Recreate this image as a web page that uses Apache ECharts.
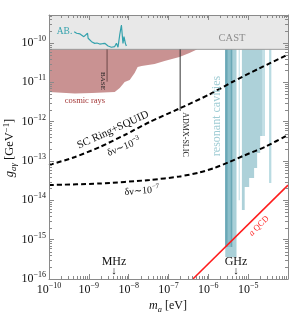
<!DOCTYPE html>
<html><head><meta charset="utf-8">
<script src="https://cdn.jsdelivr.net/npm/echarts@6/dist/echarts.min.js"></script>
<style>html,body{margin:0;padding:0;background:#fff}#c{width:292px;height:313px}</style>
</head><body><div id="c"></div>
<script>
// ---------------- data (physical units: m_a in eV, g in GeV^-1) ----------------
const xRange = [1e-10, 1e-4];
const yRange = [1e-16, 5.15e-10];
const xTickExp = [-10, -9, -8, -7, -6, -5];
const yTickExp = [-16, -15, -14, -13, -12, -11, -10];

const castG = 6.9e-11;
const castM = [1e-10, 1e-4];

const cosmicM = [1e-10, 4.47e-10, 1.19e-9, 4.47e-9, 5.96e-9, 7.94e-9, 1.06e-8, 1.41e-8, 1.68e-8, 2.11e-8, 4.47e-8, 7.94e-8, 1.88e-7, 3.35e-7, 5.31e-7];
const cosmicG = [5.69e-12, 5.21e-12, 5.37e-12, 5.69e-12, 7.18e-12, 1.02e-11, 1.15e-11, 1.73e-11, 2.45e-11, 2.61e-11, 2.93e-11, 3.49e-11, 4.42e-11, 5.57e-11, 6.92e-11];

const abM = [4.29e-10, 4.93e-10, 5.40e-10, 6.0e-10, 6.57e-10, 7.5e-10, 8.41e-10, 9.28e-10, 9.6e-10, 1.17e-9, 1.3e-9, 1.41e-9, 1.6e-9, 1.88e-9, 2.2e-9, 2.51e-9, 3.04e-9, 3.69e-9, 4.47e-9, 4.93e-9, 5.40e-9, 5.96e-9, 6.57e-9, 7.2e-9, 7.63e-9, 8.27e-9, 8.76e-9];
const abG = [1.94e-10, 1.77e-10, 1.83e-10, 1.7e-10, 1.6e-10, 1.45e-10, 1.38e-10, 1.77e-10, 1.32e-10, 1.08e-10, 1.02e-10, 9.8e-11, 1.0e-10, 9.4e-11, 9.6e-11, 9.8e-11, 8.4e-11, 7.8e-11, 8.1e-11, 9.8e-11, 7.8e-11, 1.6e-10, 2.87e-10, 9.8e-11, 1.45e-10, 9.8e-11, 8.4e-11];

const baseM = 2.87e-9, baseGLow = 1.04e-11;
const admxM = 1.96e-7, admxGLow = 1.87e-12;

const ringHiM = [1e-10, 4.47e-10, 1.88e-9, 7.94e-9, 3.35e-8, 1.88e-7, 1.06e-6, 3.98e-6, 1.88e-5, 1e-4];
const ringHiG = [7.9e-14, 1.26e-13, 2.27e-13, 4.58e-13, 9.8e-13, 2.16e-12, 4.91e-12, 1.02e-11, 2.25e-11, 5.1e-11];
const ringLoM = [1e-10, 1.88e-9, 3.35e-8, 1.88e-7, 5.96e-7, 1.41e-6, 3.35e-6, 7.94e-6, 2.77e-5, 1e-4];
const ringLoG = [2.45e-14, 2.68e-14, 3.29e-14, 4.04e-14, 5.1e-14, 6.64e-14, 9.44e-14, 1.38e-13, 2.34e-13, 4.6e-13];

const qcdM = [4.1e-7, 1e-4];
const qcdG = [1e-16, 2.44e-14];

// resonant cavity exclusion bands: [mLeft, mRight, gBottom]
const cavLight = [[2.66e-6, 5.10e-6, 3.6e-16]];
const cavMed = [[2.66e-6, 3.98e-6, 6.5e-16]];
const cavDark = [[2.66e-6, 3.04e-6, 6.5e-16], [3.65e-6, 3.98e-6, 6.5e-16]];
const cavThin = [[5.79e-6, 6.13e-6, 1.0e-14], [3.35e-5, 3.82e-5, 2.76e-14]];
const cavEdge = [[2.24e-5, 2.62e-5, 4.32e-13]];
// stepped band: mass edges and bottom g for each step
const cavStepM = [6.96e-6, 8.18e-6, 1.06e-5, 1.41e-5, 1.68e-5, 2.0e-5, 2.62e-5];
const cavStepG = [5.68e-15, 2.18e-14, 3.70e-14, 6.64e-14, 1.6e-13, 4.32e-13];

// ---------------- build ----------------
const L = Math.log10;
const SERIF = '"Liberation Serif","DejaVu Serif",serif';
const xMinL = L(xRange[0]), xMaxL = L(xRange[1]), yMinL = L(yRange[0]), yMaxL = L(yRange[1]);

function polySeries(pts, color, z) {
  return {type: 'custom', silent: true, z: z, animation: false,
    data: [[L(pts[0][0]), L(pts[0][1])]],
    renderItem: (p, api) => ({type: 'polygon',
      shape: {points: pts.map(q => api.coord([L(q[0]), L(q[1])]))},
      style: {fill: color}})};
}
function rectPts(m1, m2, g1, g2) { return [[m1, g1], [m2, g1], [m2, g2], [m1, g2]]; }
function lineSeries(ms, gs, style, z, smooth) {
  return {type: 'line', silent: true, z: z, animation: false, showSymbol: false, symbol: 'none', smooth: smooth || false,
    data: ms.map((m, i) => [L(m), L(gs[i])]), lineStyle: style};
}

const series = [];
// CAST
series.push(polySeries(rectPts(castM[0], castM[1], castG, yRange[1]), '#e8e8e8', 1));
// cosmic rays
const cosPoly = [[cosmicM[0], castG], [cosmicM[cosmicM.length - 1], castG]];
for (let i = cosmicM.length - 1; i >= 0; i--) cosPoly.push([cosmicM[i], cosmicG[i]]);
series.push(polySeries(cosPoly, '#c99292', 2));
// cavities
cavLight.forEach(b => series.push(polySeries(rectPts(b[0], b[1], b[2], castG), '#a9d0d8', 3)));
cavMed.forEach(b => series.push(polySeries(rectPts(b[0], b[1], b[2], castG), '#8dbfca', 3)));
cavDark.forEach(b => series.push(polySeries(rectPts(b[0], b[1], b[2], castG), '#6aa8b6', 3)));
cavThin.forEach(b => series.push(polySeries(rectPts(b[0], b[1], b[2], castG), '#b9dbe2', 3)));
const stepPoly = [[cavStepM[0], castG], [cavStepM[cavStepM.length - 1], castG]];
for (let i = cavStepG.length - 1; i >= 0; i--) { stepPoly.push([cavStepM[i + 1], cavStepG[i]]); stepPoly.push([cavStepM[i], cavStepG[i]]); }
series.push(polySeries(stepPoly, '#add1d9', 3));
cavEdge.forEach(b => series.push(polySeries(rectPts(b[0], b[1], b[2], castG), '#c3e0e6', 3)));
// CAST border
series.push(lineSeries(castM, [castG, castG], {color: '#9a9a9a', width: 1}, 4));
// ABRACADABRA
series.push(lineSeries(abM, abG, {color: '#35a2ad', width: 1.2}, 5));
// BASE & ADMX-SLIC
series.push(lineSeries([baseM, baseM], [castG, baseGLow], {color: '#6d4747', width: 1}, 5));
series.push(lineSeries([admxM, admxM], [castG, admxGLow], {color: '#333', width: 1}, 5));
// SC ring projections
series.push(lineSeries(ringHiM, ringHiG, {color: '#000', width: 2, type: [5, 3]}, 6, 0.25));
series.push(lineSeries(ringLoM, ringLoG, {color: '#000', width: 2, type: [5, 3]}, 6, 0.25));
// QCD axion
series.push(lineSeries(qcdM, qcdG, {color: '#ff1c1c', width: 1.6}, 6));

// log minor ticks
const minorX = [], minorY = [];
for (let n = Math.round(xMinL); n < Math.round(xMaxL); n++) for (let k = 2; k <= 9; k++) minorX.push(n + L(k));
for (let n = Math.round(yMinL); n <= Math.floor(yMaxL); n++) for (let k = 2; k <= 9; k++) { const v = n + L(k); if (v < yMaxL) minorY.push(v); }
const TICK = '#8a8a8a';
series.push({type: 'custom', silent: true, z: 20, animation: false, data: minorX.map(v => [v, yMinL]),
  renderItem: (p, api) => { const cs = p.coordSys; const x = Math.round(api.coord([api.value(0), yMinL])[0]) + 0.5;
    const b = cs.y + cs.height;
    return {type: 'group', children: [
      {type: 'line', shape: {x1: x, y1: b, x2: x, y2: b - 3}, style: {stroke: TICK, lineWidth: 1}},
      {type: 'line', shape: {x1: x, y1: cs.y, x2: x, y2: cs.y + 3}, style: {stroke: TICK, lineWidth: 1}}]}; }});
series.push({type: 'custom', silent: true, z: 20, animation: false, data: minorY.map(v => [xMinL, v]),
  renderItem: (p, api) => { const cs = p.coordSys; const y = Math.round(api.coord([xMinL, api.value(1)])[1]) + 0.5;
    const r = cs.x + cs.width;
    return {type: 'group', children: [
      {type: 'line', shape: {x1: cs.x, y1: y, x2: cs.x + 3, y2: y}, style: {stroke: TICK, lineWidth: 1}},
      {type: 'line', shape: {x1: r, y1: y, x2: r - 3, y2: y}, style: {stroke: TICK, lineWidth: 1}}]}; }});

const tickRich = {
  b: {fontFamily: SERIF, fontSize: 12, lineHeight: 16, color: '#111'},
  e: {fontFamily: SERIF, fontSize: 8, lineHeight: 9, verticalAlign: 'top', color: '#111'}
};
function expLabel(list) {
  return v => { const r = Math.round(v); if (Math.abs(v - r) > 1e-6 || list.indexOf(r) < 0) return '';
    return '{b|10}{e|' + String(r).replace('-', '\u2212') + '}'; };
}
const axLine = {show: true, lineStyle: {color: TICK, width: 1}};
const axTick = {show: true, inside: true, length: 5, lineStyle: {color: TICK, width: 1}};
function xAx(pos, lab) {
  return {type: 'value', position: pos, min: xMinL, max: xMaxL, interval: 1, z: 20,
    axisLine: axLine, axisTick: axTick, splitLine: {show: false},
    axisLabel: lab ? {show: true, margin: 3, formatter: expLabel(xTickExp), rich: tickRich} : {show: false}};
}
function yAx(pos, lab) {
  return {type: 'value', position: pos, min: yMinL, max: yMaxL, interval: 1, z: 20,
    axisLine: axLine, axisTick: axTick, splitLine: {show: false},
    axisLabel: lab ? {show: true, margin: 3, formatter: expLabel(yTickExp), rich: tickRich} : {show: false}};
}

function txt(x, y, text, size, color, rot, extra) {
  return Object.assign({type: 'text', x: x, y: y, rotation: rot || 0, z: 30, silent: true,
    style: Object.assign({text: text, fontFamily: SERIF, fontSize: size, fill: color, align: 'center', verticalAlign: 'middle'}, extra || {})});
}
const supRich = (size, color) => ({
  n: {fontFamily: SERIF, fontSize: size, lineHeight: size + 4, fill: color, color: color},
  s: {fontFamily: SERIF, fontSize: size * 0.7, lineHeight: size * 0.7, verticalAlign: 'top', fill: color, color: color},
  i: {fontFamily: SERIF, fontSize: size, lineHeight: size + 4, fontStyle: 'italic', fill: color, color: color},
  d: {fontFamily: SERIF, fontSize: size * 0.7, lineHeight: size * 0.7, verticalAlign: 'bottom', fontStyle: 'italic', fill: color, color: color}
});

const graphics = [
  txt(232, 38.5, 'CAST', 10.5, '#8c8c8c'),
  txt(64.5, 31, 'AB.', 9.5, '#35a2ad'),
  txt(85, 101, 'cosmic rays', 8.5, '#a33535'),
  txt(102.5, 81, 'BASE', 7, '#222', -Math.PI / 2),
  txt(185.5, 134.5, 'ADMX-SLIC', 8, '#222', -Math.PI / 2),
  txt(216.5, 116, 'resonant cavities', 12, '#9fccd4', Math.PI / 2),
  txt(113, 130, 'SC Ring+SQUID', 11, '#111', 0.43),
  txt(124, 147, '{n|\u03b4\u03bd\u223c10}{s|\u22123}', 10, '#111', 0.39, {rich: supRich(10, '#111')}),
  txt(142, 191, '{n|\u03b4\u03bd\u223c10}{s|\u22127}', 10, '#111', 0.08, {rich: supRich(10, '#111')}),
  txt(114, 262, 'MHz', 12, '#111'),
  txt(114, 271.5, '\u2193', 11, '#111'),
  txt(236, 262, 'GHz', 12, '#111'),
  txt(236, 271.5, '\u2193', 11, '#111'),
  txt(259, 226, '{i|a} {n|QCD}', 9, '#ff1c1c', Math.PI / 4, {rich: supRich(8.5, '#ff1c1c')}),
  txt(168, 306, '{i|m}{d|a}{n| [eV]}', 12, '#111', 0, {rich: supRich(12, '#111')}),
  txt(10, 148, '{i|g}{d|a\u03b3}{n| [GeV}{s|\u22121}{n|]}', 12.5, '#111', Math.PI / 2, {rich: supRich(12.5, '#111')})
];

const chart = echarts.init(document.getElementById('c'), null, {renderer: 'canvas', width: 292, height: 313});
chart.setOption({
  animation: false,
  backgroundColor: '#fff',
  grid: {left: 49, top: 15, right: 4, bottom: 34, containLabel: false, outerBoundsMode: 'none'},
  xAxis: [xAx('bottom', true), xAx('top', false)],
  yAxis: [yAx('left', true), yAx('right', false)],
  series: series,
  graphic: graphics
});
</script></body></html>
